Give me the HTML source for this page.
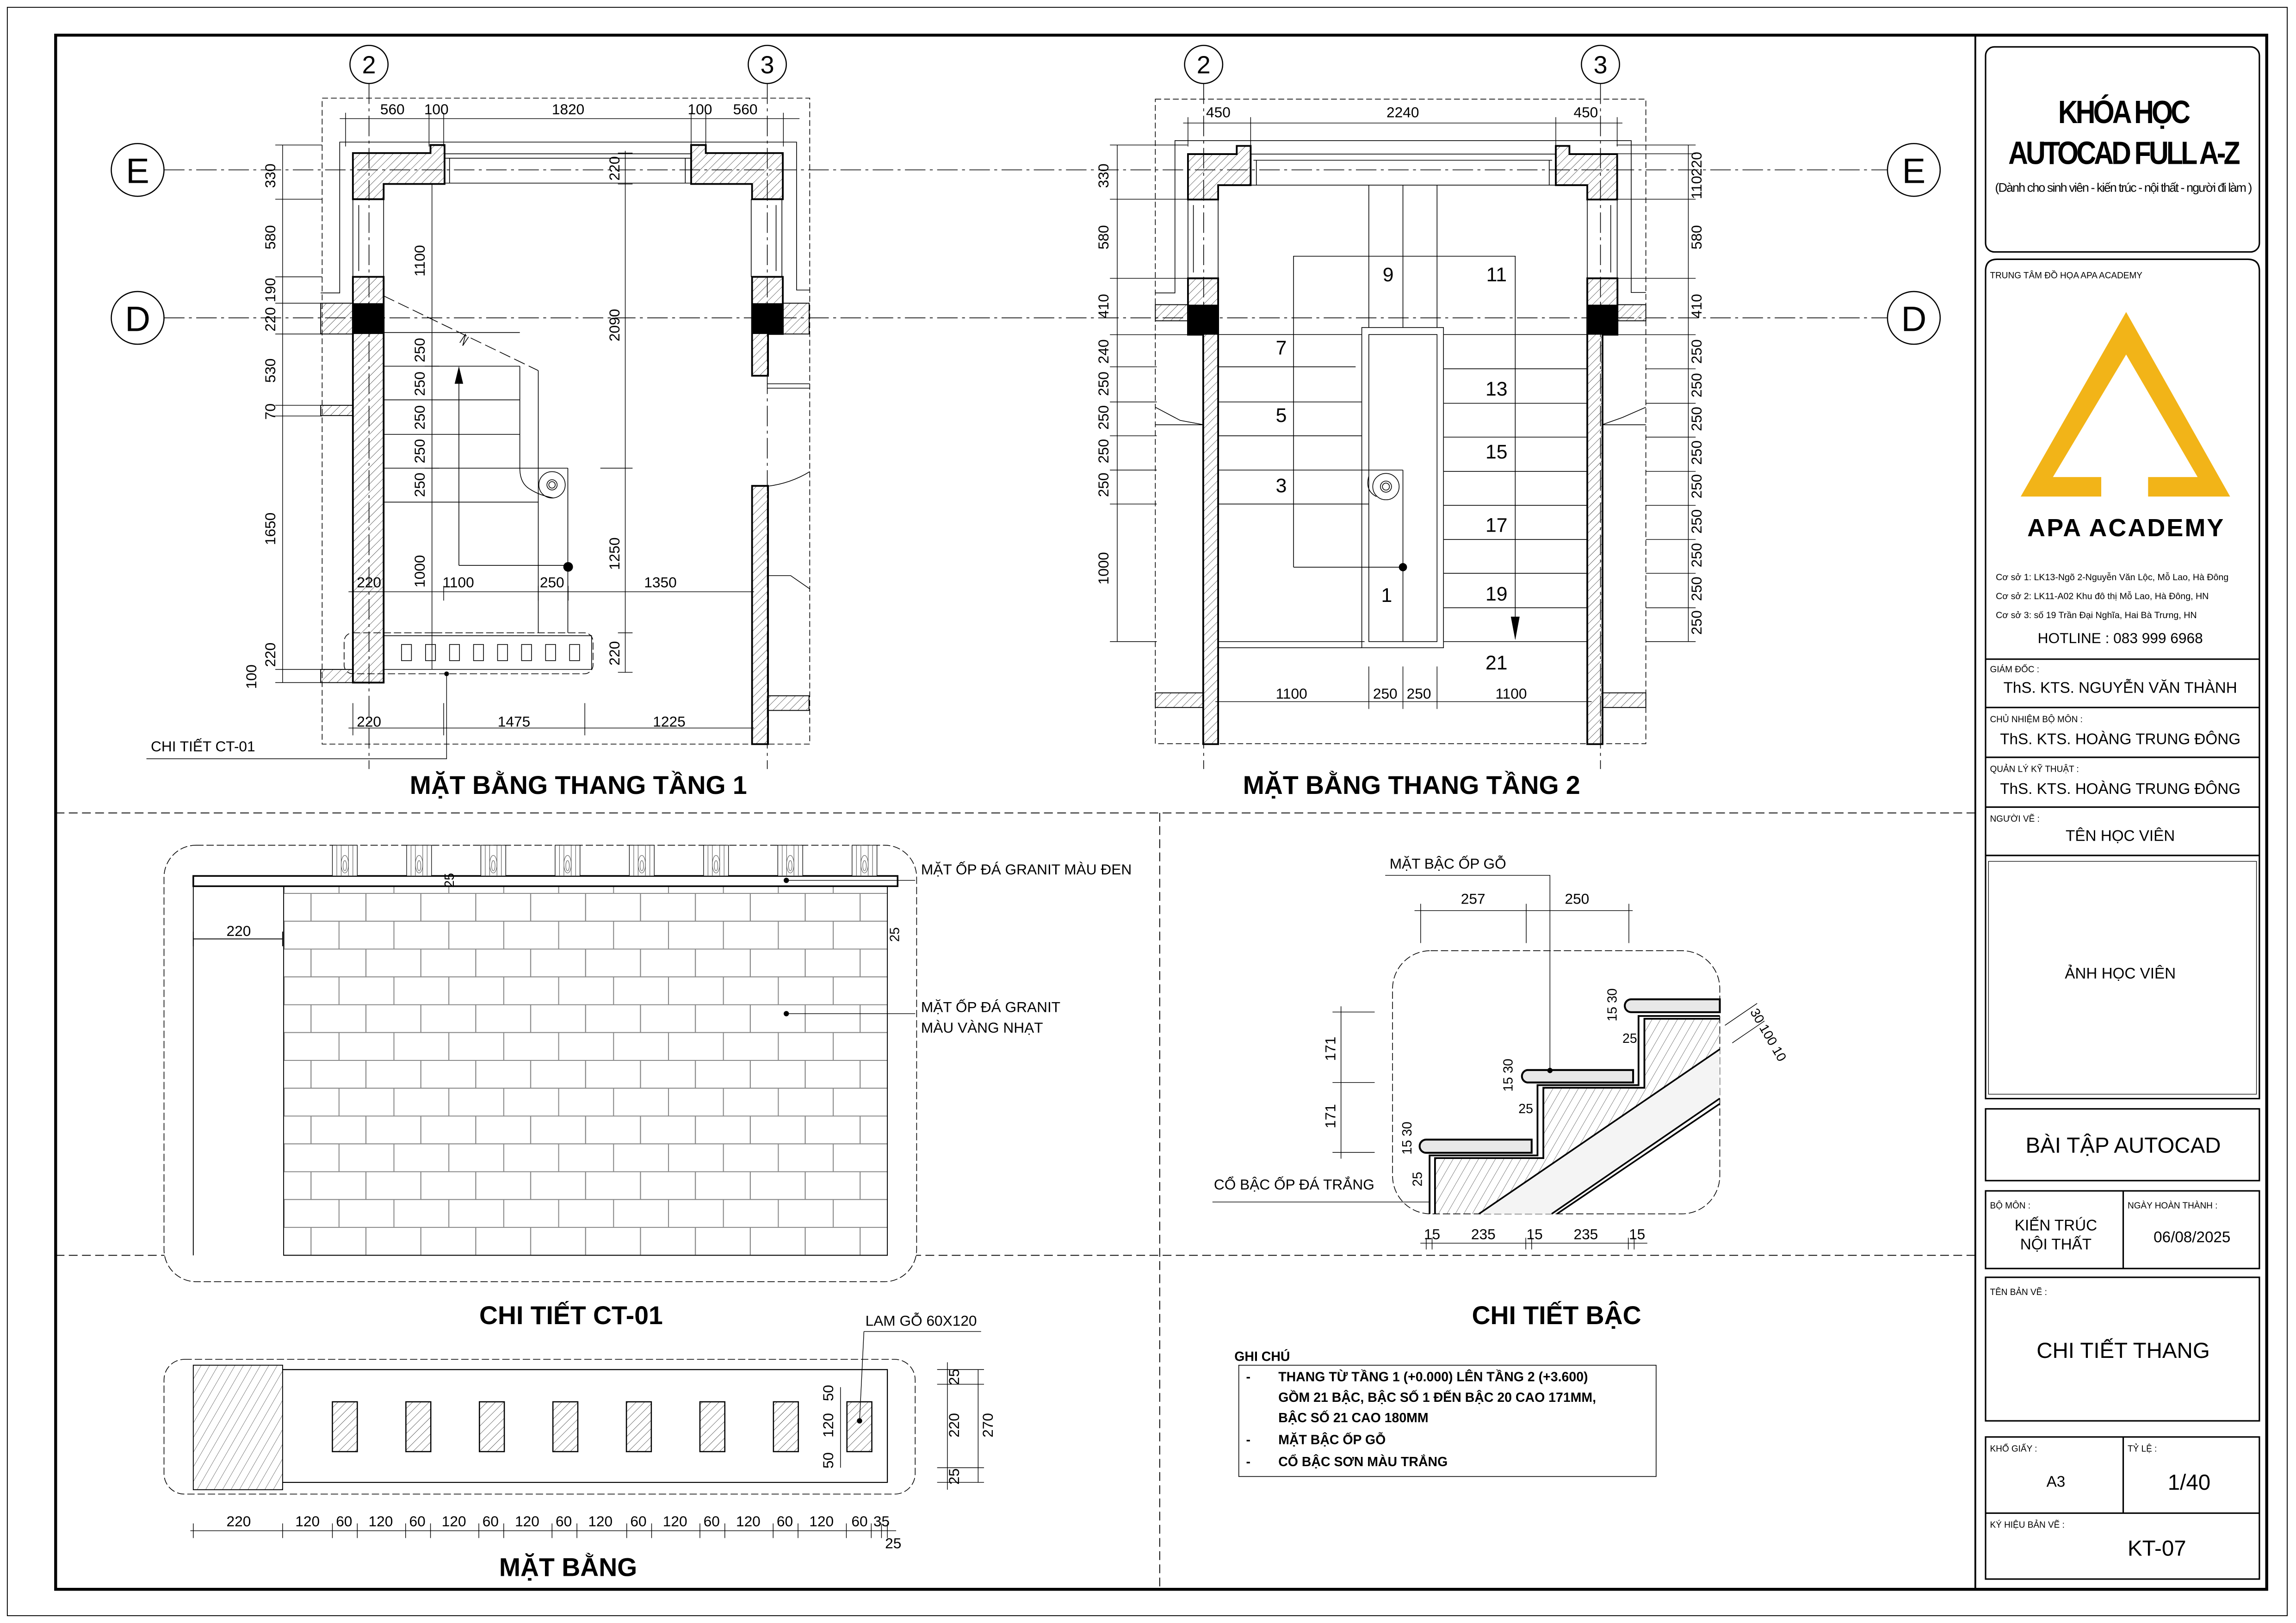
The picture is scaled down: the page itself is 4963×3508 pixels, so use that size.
<!DOCTYPE html>
<html><head><meta charset="utf-8"><style>
html,body{margin:0;padding:0;background:#fff}
svg{display:block}
text{font-family:"Liberation Sans",sans-serif;fill:#000}
</style></head><body>
<svg width="4963" height="3508" viewBox="0 0 1568 1108" preserveAspectRatio="none" xmlns="http://www.w3.org/2000/svg">
<defs>
<pattern id="h" patternUnits="userSpaceOnUse" width="4" height="4" patternTransform="rotate(45)"><line x1="0" y1="0" x2="0" y2="4" stroke="#000" stroke-width="0.35"/></pattern>
<pattern id="h2" patternUnits="userSpaceOnUse" width="5" height="5" patternTransform="rotate(30)"><line x1="0" y1="0" x2="0" y2="5" stroke="#000" stroke-width="0.3"/></pattern>
<pattern id="br" patternUnits="userSpaceOnUse" width="37.5" height="38" patternTransform="translate(193.7,609.6)"><path d="M0 0.3H37.5M0 19.3H37.5M18.7 0V19M0.3 19V38" stroke="#888" stroke-width="0.7" fill="none"/></pattern>
</defs>
<rect width="1568" height="1108" fill="#fff"/>
<rect x="5" y="5" width="1557" height="1098" fill="none" stroke="#000" stroke-width="0.6"/>
<rect x="38" y="24" width="1510" height="1061" fill="none" stroke="#000" stroke-width="2"/>
<line x1="1349" y1="24" x2="1349" y2="1085" stroke="#000" stroke-width="1.2"/>
<g stroke="#000" stroke-width="0.6" stroke-dasharray="6 3" fill="none">
<line x1="38" y1="555" x2="1349" y2="555"/>
<line x1="792" y1="555" x2="792" y2="1085"/>
<line x1="38" y1="857" x2="1349" y2="857"/>
</g>

<!-- grid -->
<g stroke="#000" stroke-width="0.5" stroke-dasharray="14 3 2 3" fill="none">
<line x1="112" y1="116" x2="1289" y2="116"/>
<line x1="112" y1="217" x2="1289" y2="217"/>
<line x1="252" y1="57" x2="252" y2="525"/>
<line x1="524" y1="57" x2="524" y2="525"/>
<line x1="822" y1="57" x2="822" y2="525"/>
<line x1="1093" y1="57" x2="1093" y2="525"/>
</g>
<g fill="#fff" stroke="#000" stroke-width="0.8">
<circle cx="252" cy="44" r="13"/><circle cx="524" cy="44" r="13"/><circle cx="822" cy="44" r="13"/><circle cx="1093" cy="44" r="13"/>
<circle cx="94" cy="116" r="18"/><circle cx="1307" cy="116" r="18"/><circle cx="94" cy="217" r="18"/><circle cx="1307" cy="217" r="18"/>
</g>
<g font-size="17" text-anchor="middle">
<text x="252" y="50">2</text><text x="524" y="50">3</text><text x="822" y="50">2</text><text x="1093" y="50">3</text>
</g>
<g font-size="24" text-anchor="middle">
<text x="94" y="125">E</text><text x="1307" y="125">E</text><text x="94" y="226">D</text><text x="1307" y="226">D</text>
</g>

<!-- ============ PLAN 1 ============ -->
<rect x="220" y="67" width="333" height="441" fill="none" stroke="#000" stroke-width="0.5" stroke-dasharray="4 2"/>
<g stroke="#000" stroke-width="0.5" fill="none">
<path d="M219 200H232V97H544V198H553"/>
<path d="M303 105H472M303 108H472M307 108V125M468 108V125M303 125H472"/>
<path d="M241 136V189M262 136V189M245 140V185"/>
<path d="M534 136V189M513 136V189M530 140V185"/>
<path d="M524 262H553M524 265H553"/>
<path d="M524 332Q540 330 553 322"/>
<path d="M524 393H540L553 402"/>
</g>
<g stroke="#000" stroke-width="1.2" fill="url(#h)">
<path d="M241 104.5H294V99H303.6V125.6H262V136H241Z"/>
<path d="M472 99H482V104.5H534.6V136H513.6V125.6H472Z"/>
<path d="M241 189H262V466H241Z"/>
<path d="M513.6 189H534.6V228H524.5V256.5H513.6Z"/>
<path d="M513.6 331.7H524.5V508H513.6Z"/>
</g>
<g stroke="#000" stroke-width="0.6" fill="url(#h)">
<rect x="219" y="207" width="22" height="21"/>
<rect x="219" y="276.7" width="22" height="7"/>
<rect x="219" y="457" width="22" height="9"/>
<rect x="534.6" y="207" width="18" height="21"/>
<rect x="524.5" y="475" width="28" height="10"/>
</g>
<rect x="241" y="207" width="21" height="21" fill="#000"/>
<rect x="513.6" y="207" width="21" height="21" fill="#000"/>
<g stroke="#000" stroke-width="0.5" fill="none">
<path d="M262 227H355M262 250H355M262 273H355M262 296.5H355M262 319.6H367.6M262 342.8H367.6"/>
<path d="M355 250V319.6Q355 330 362 334Q368 338 378 340M367.6 253V432M387.8 319.6V432M367.6 319.6H387.8"/>
<circle cx="377" cy="331" r="9"/><circle cx="377" cy="331" r="3.5"/><circle cx="377" cy="331" r="2.2"/>
<path d="M313.4 386V253M313.4 386H388"/>
<path d="M262 202L367.6 253" stroke-dasharray="8 3"/>
<path d="M314 234L318 228L316 236L320 230"/>
<rect x="235" y="432" width="170" height="28" rx="6" stroke-dasharray="5 2"/>
<path d="M262 434H404V457H262"/>
</g>
<polygon points="313.4,250 310.5,262 316.3,262" fill="#000"/>
<circle cx="388" cy="387" r="3.3" fill="#000"/>
<g fill="#fff" stroke="#000" stroke-width="0.5">
<rect x="274.2" y="440" width="6.8" height="11"/><rect x="290.6" y="440" width="6.8" height="11"/><rect x="307" y="440" width="6.8" height="11"/><rect x="323.4" y="440" width="6.8" height="11"/><rect x="339.8" y="440" width="6.8" height="11"/><rect x="356.2" y="440" width="6.8" height="11"/><rect x="372.6" y="440" width="6.8" height="11"/><rect x="389" y="440" width="6.8" height="11"/>
</g>
<!-- dims plan 1 -->
<g stroke="#000" stroke-width="0.45" fill="none">
<path d="M232 81H546M236 77V100M293 77V100M303 77V100M472 77V100M482 77V100M535 77V100"/>
<path d="M193 99V466M188 99H220M188 136H220M188 189H220M188 207H220M188 228H220M188 276.7H220M188 284H220M188 457H220M188 466H220"/>
<path d="M295 125V457M290 227H300M290 250H300M290 273H300M290 296.5H300M290 319.6H300M290 342.8H300M290 432H300"/>
<path d="M427 103V459M422 104.5H432M422 125.6H432M422 319.6H432M410 319.6H432M422 432H432M422 459H432"/>
<path d="M238 404H515M241 400V410M303 400V410M367.6 400V410M388 400V410M513.6 400V410"/>
<path d="M238 497H515M241 480V502M303 480V502M399.4 480V502M513.6 480V502"/>
<path d="M100 518H305V460"/>
</g>
<circle cx="305" cy="460" r="1.6" fill="#000"/>
<g font-size="10" text-anchor="middle">
<text x="268" y="78">560</text><text x="298" y="78">100</text><text x="388" y="78">1820</text><text x="478" y="78">100</text><text x="509" y="78">560</text>
<text x="252" y="401">220</text><text x="313" y="401">1100</text><text x="377" y="401">250</text><text x="451" y="401">1350</text>
<text x="252" y="496">220</text><text x="351" y="496">1475</text><text x="457" y="496">1225</text>
</g>
<g font-size="10" text-anchor="middle">
<text transform="translate(188,120) rotate(-90)">330</text>
<text transform="translate(188,162) rotate(-90)">580</text>
<text transform="translate(188,198) rotate(-90)">190</text>
<text transform="translate(188,218) rotate(-90)">220</text>
<text transform="translate(188,253) rotate(-90)">530</text>
<text transform="translate(188,281) rotate(-90)">70</text>
<text transform="translate(188,361) rotate(-90)">1650</text>
<text transform="translate(188,447) rotate(-90)">220</text>
<text transform="translate(175,462) rotate(-90)">100</text>
<text transform="translate(290,178) rotate(-90)">1100</text>
<text transform="translate(290,239) rotate(-90)">250</text>
<text transform="translate(290,262) rotate(-90)">250</text>
<text transform="translate(290,285) rotate(-90)">250</text>
<text transform="translate(290,308) rotate(-90)">250</text>
<text transform="translate(290,331) rotate(-90)">250</text>
<text transform="translate(290,390) rotate(-90)">1000</text>
<text transform="translate(423,115) rotate(-90)">220</text>
<text transform="translate(423,222) rotate(-90)">2090</text>
<text transform="translate(423,378) rotate(-90)">1250</text>
<text transform="translate(423,446) rotate(-90)">220</text>
</g>
<text x="103" y="513" font-size="10">CHI TIẾT CT-01</text>
<text x="395" y="542" font-size="17.5" font-weight="bold" text-anchor="middle">MẶT BẰNG THANG TẦNG 1</text>

<!-- ============ PLAN 2 ============ -->
<rect x="789" y="67.7" width="335" height="440" fill="none" stroke="#000" stroke-width="0.5" stroke-dasharray="4 2"/>
<g stroke="#000" stroke-width="0.5" fill="none">
<path d="M789 200H802.4V96H1114V199.7H1124"/>
<path d="M854 105.2H1062M856 109.4H1060M858 109.4V126.4M1058 109.4V126.4M854 126.4H1062"/>
<path d="M811.3 136V190M831.9 136V190M815 140V186M1084 136V190M1104.4 136V190M1100 140V186"/>
<path d="M934.8 126.4V223.6M958.1 126.4V223.6M981.4 126.4V223.6"/>
<rect x="930" y="223.6" width="55.8" height="218.6"/>
<rect x="934.8" y="228.4" width="46.6" height="209.6"/>
<path d="M931.9 438H930M832 438H930M832 442.2H930"/>
<path d="M883.4 387.2V174.9H1034.8V436"/>
<path d="M832 228.4H930M832 250.4H925.8M832 274.4H930M832 297.5H930M832 320.9H958.1M832 344.1H934.8"/>
<path d="M985.8 228.4H1084M985.8 251.8H1084M985.8 275.3H1084M985.8 298.4H1084M985.8 321.8H1084M985.8 345H1084M985.8 368.3H1084M985.8 391.4H1084M985.8 414.9H1084M985.8 438H1084"/>
<path d="M958.1 320.9V387.2H883.4M958.1 387.2V438"/>
<path d="M934.8 325Q932 335 940 339" />
<circle cx="946.5" cy="332.2" r="9"/><circle cx="946.5" cy="332.2" r="3.8"/><circle cx="946.5" cy="332.2" r="2.4"/>
<path d="M789 278L806 287L822 290M789 290H822M1094 290H1124M1094 290L1108 285L1124 278"/>
</g>
<polygon points="1034.8,437 1031.8,421 1037.8,421" fill="#000"/>
<circle cx="958.1" cy="387.2" r="2.8" fill="#000"/>
<g stroke="#000" stroke-width="1.2" fill="url(#h)">
<path d="M811.3 105.2H844.6V99.6H854.1V126.4H831.9V136.2H811.3Z"/>
<path d="M1062.5 99.6H1071.8V105.2H1104.4V136.2H1084V126.4H1062.5Z"/>
<path d="M811.3 190H831.9V508H821.7V228.5H811.3Z"/>
<path d="M1084 190H1104.6V228.5H1094.4V508H1084Z"/>
</g>
<g stroke="#000" stroke-width="0.6" fill="url(#h)">
<rect x="789" y="208" width="22.3" height="11"/>
<rect x="1104.6" y="208" width="19.4" height="11"/>
<rect x="789" y="473" width="32.7" height="10"/>
<rect x="1094.4" y="473" width="29.6" height="10"/>
</g>
<rect x="811.3" y="208" width="20.6" height="20.5" fill="#000"/>
<rect x="1084" y="208" width="20.6" height="20.5" fill="#000"/>
<g font-size="13.5" text-anchor="middle">
<text x="948" y="192">9</text><text x="1022" y="192">11</text><text x="875" y="242">7</text><text x="875" y="288">5</text><text x="875" y="336">3</text><text x="947" y="411">1</text>
<text x="1022" y="270">13</text><text x="1022" y="313">15</text><text x="1022" y="363">17</text><text x="1022" y="410">19</text><text x="1022" y="457">21</text>
</g>
<g stroke="#000" stroke-width="0.45" fill="none">
<path d="M808 84H1108M811.3 80V100M854.1 80V100M1062.5 80V100M1104.4 80V100"/>
<path d="M830 479H1087M832 470V484M934.8 455V484M958.1 455V484M981.4 455V484M1084 470V484"/>
<path d="M763 99V438M758 99H811M758 136H811M758 190H811M758 228.5H811M758 250.4H790M758 274.4H790M758 297.5H790M758 320.9H790M758 344.1H790M758 438H790"/>
<path d="M1153 99V438M1104 99H1158M1104 105H1158M1104 136H1158M1104 190H1158M1104 228.5H1158M1124 251.8H1158M1124 275.3H1158M1124 298.4H1158M1124 321.8H1158M1124 345H1158M1124 368.3H1158M1124 391.4H1158M1124 414.9H1158M1124 438H1158"/>
</g>
<g font-size="10" text-anchor="middle">
<text x="832" y="80">450</text><text x="958" y="80">2240</text><text x="1083" y="80">450</text>
<text x="882" y="477">1100</text><text x="946" y="477">250</text><text x="969" y="477">250</text><text x="1032" y="477">1100</text>
<text transform="translate(757,120) rotate(-90)">330</text>
<text transform="translate(757,162) rotate(-90)">580</text>
<text transform="translate(757,209) rotate(-90)">410</text>
<text transform="translate(757,240) rotate(-90)">240</text>
<text transform="translate(757,262) rotate(-90)">250</text>
<text transform="translate(757,285) rotate(-90)">250</text>
<text transform="translate(757,308) rotate(-90)">250</text>
<text transform="translate(757,331) rotate(-90)">250</text>
<text transform="translate(757,388) rotate(-90)">1000</text>
<text transform="translate(1162,112) rotate(-90)">220</text>
<text transform="translate(1162,128) rotate(-90)">110</text>
<text transform="translate(1162,162) rotate(-90)">580</text>
<text transform="translate(1162,209) rotate(-90)">410</text>
<text transform="translate(1162,240) rotate(-90)">250</text>
<text transform="translate(1162,263) rotate(-90)">250</text>
<text transform="translate(1162,286) rotate(-90)">250</text>
<text transform="translate(1162,309) rotate(-90)">250</text>
<text transform="translate(1162,332) rotate(-90)">250</text>
<text transform="translate(1162,356) rotate(-90)">250</text>
<text transform="translate(1162,379) rotate(-90)">250</text>
<text transform="translate(1162,402) rotate(-90)">250</text>
<text transform="translate(1162,425) rotate(-90)">250</text>
</g>
<text x="964" y="542" font-size="17.5" font-weight="bold" text-anchor="middle">MẶT BẰNG THANG TẦNG 2</text>

<!-- ============ CT-01 ============ -->
<rect x="112" y="577" width="514" height="298" rx="22" fill="#fff" stroke="#000" stroke-width="0.5" stroke-dasharray="5 2"/>
<rect x="193.7" y="605" width="412.3" height="252" fill="url(#br)"/>
<g stroke="#000" stroke-width="0.6" fill="none">
<path d="M193.7 605V857H606V605"/>
<path d="M132 598V857"/>
<path d="M132 641H193M132 636V646M193 636V646"/>
</g>
<rect x="132" y="598" width="481" height="7" fill="#fff" stroke="#000" stroke-width="1.1"/>
<g stroke="#000" stroke-width="0.4" fill="#fff">
<rect x="227" y="577" width="17" height="21"/><rect x="277.7" y="577" width="17" height="21"/><rect x="328.4" y="577" width="17" height="21"/><rect x="379.1" y="577" width="17" height="21"/><rect x="429.8" y="577" width="17" height="21"/><rect x="480.5" y="577" width="17" height="21"/><rect x="531.2" y="577" width="17" height="21"/><rect x="581.9" y="577" width="17" height="21"/>
</g>
<g stroke="#555" stroke-width="0.35" fill="none">
<g id="bl"><path d="M230 577V598M233 577V598M241 577V598M238 577V598"/><ellipse cx="235.5" cy="590" rx="2.5" ry="6"/><ellipse cx="235.5" cy="591" rx="1.2" ry="3.5"/></g>
<use href="#bl" x="50.7"/><use href="#bl" x="101.4"/><use href="#bl" x="152.1"/><use href="#bl" x="202.8"/><use href="#bl" x="253.5"/><use href="#bl" x="304.2"/><use href="#bl" x="354.9"/>
</g>
<g stroke="#000" stroke-width="0.45" fill="none"><path d="M537 601H625M537 692H625"/></g>
<circle cx="537" cy="601" r="1.8" fill="#000"/><circle cx="537" cy="692" r="1.8" fill="#000"/>
<text x="163" y="639" font-size="10" text-anchor="middle">220</text>
<text transform="translate(310,601) rotate(-90)" font-size="9" text-anchor="middle">25</text>
<text transform="translate(614,638) rotate(-90)" font-size="9" text-anchor="middle">25</text>
<text x="629" y="597" font-size="10">MẶT ỐP ĐÁ GRANIT MÀU ĐEN</text>
<text x="629" y="691" font-size="10">MẶT ỐP ĐÁ GRANIT</text>
<text x="629" y="705" font-size="10">MÀU VÀNG NHẠT</text>
<text x="390" y="904" font-size="17.5" font-weight="bold" text-anchor="middle">CHI TIẾT CT-01</text>

<!-- ============ MAT BANG ============ -->
<rect x="112" y="928" width="513" height="92" rx="14" fill="none" stroke="#000" stroke-width="0.5" stroke-dasharray="5 2"/>
<rect x="132" y="932" width="61" height="85" fill="url(#h2)" stroke="#000" stroke-width="0.6"/>
<g stroke="#000" stroke-width="0.7" fill="none"><path d="M193 935H606V1012H193"/></g>
<g stroke="#000" stroke-width="0.8" fill="url(#h)">
<rect x="227" y="957" width="17" height="34"/><rect x="277.2" y="957" width="17" height="34"/><rect x="327.4" y="957" width="17" height="34"/><rect x="377.6" y="957" width="17" height="34"/><rect x="427.8" y="957" width="17" height="34"/><rect x="478" y="957" width="17" height="34"/><rect x="528.2" y="957" width="17" height="34"/><rect x="578.4" y="957" width="17" height="34"/>
</g>
<g stroke="#000" stroke-width="0.45" fill="none">
<path d="M590 909H670M590 909L587 970"/>
<path d="M640 935H672M640 945H672M640 1002H672M640 1012H672M647 930V1017M668 935V1012"/>
<path d="M574 947V1002"/>
<path d="M130 1045H612M132 1040V1050M193 1040V1050M227 1040V1050M244 1040V1050M277 1040V1050M294 1040V1050M327 1040V1050M344 1040V1050M377 1040V1050M394 1040V1050M428 1040V1050M445 1040V1050M478 1040V1050M495 1040V1050M528 1040V1050M545 1040V1050M578 1040V1050M595 1040V1050M602 1040V1050M606 1040V1050"/>
</g>
<circle cx="587" cy="970" r="1.8" fill="#000"/>
<text x="591" y="905" font-size="10">LAM GỖ 60X120</text>
<g font-size="10" text-anchor="middle">
<text x="163" y="1042">220</text>
<text x="210" y="1042">120</text><text x="235" y="1042">60</text><text x="260" y="1042">120</text><text x="285" y="1042">60</text><text x="310" y="1042">120</text><text x="335" y="1042">60</text><text x="360" y="1042">120</text><text x="385" y="1042">60</text><text x="410" y="1042">120</text><text x="436" y="1042">60</text><text x="461" y="1042">120</text><text x="486" y="1042">60</text><text x="511" y="1042">120</text><text x="536" y="1042">60</text><text x="561" y="1042">120</text><text x="587" y="1042">60</text><text x="602" y="1042">35</text><text x="610" y="1057">25</text>
<text transform="translate(655,940) rotate(-90)">25</text>
<text transform="translate(655,973) rotate(-90)">220</text>
<text transform="translate(655,1008) rotate(-90)">25</text>
<text transform="translate(678,973) rotate(-90)">270</text>
<text transform="translate(569,951) rotate(-90)">50</text>
<text transform="translate(569,973) rotate(-90)">120</text>
<text transform="translate(569,997) rotate(-90)">50</text>
</g>
<text x="388" y="1076" font-size="17.5" font-weight="bold" text-anchor="middle">MẶT BẰNG</text>

<!-- ============ CHI TIET BAC ============ -->
<rect x="951" y="649" width="223.5" height="179.7" rx="26" fill="none" stroke="#000" stroke-width="0.5" stroke-dasharray="5 2"/>
<path d="M980 828.7V790.6H1054V742.6H1123V695.5H1174.5V716.3L1010 828.7Z" fill="url(#h2)"/>
<path d="M1010 828.7L1174.5 716.3V749.9L1059.7 828.7Z" fill="#f4f4f4"/>
<g stroke="#000" fill="none">
<path d="M976.3 828.7V788.8H1050V740.8H1119V693.6H1174.5" stroke-width="1.2"/>
<path d="M980 828.7V790.6H1054V742.6H1123V695.5H1174.5" stroke-width="1.2"/>
<path d="M1010 828.7L1174.5 716.3M1059.7 828.7L1174.5 749.9M1063.3 828.7L1174.5 753.5" stroke-width="1.1"/>
<path d="M946 597.6H1058.5V730.8" stroke-width="0.45"/>
<path d="M966 621.7H1115M970.2 617V643.8M1042.3 617V643.8M1112.4 617V643.8" stroke-width="0.45"/>
<path d="M915.8 687V791M910 690.9H938.8M910 739H938.8M910 786.7H938.8" stroke-width="0.45"/>
<path d="M828 820.6H976" stroke-width="0.45"/>
<path d="M970 848.7H1125M974 845V853M978 845V853M1042 845V853M1046 845V853M1112 845V853M1116 845V853" stroke-width="0.45"/>
<path d="M1178 700L1200 685M1183 712L1205 697" stroke-width="0.45"/>
</g>
<g stroke="#000" stroke-width="1.3" fill="#e8e8e8">
<path d="M974 778H1046V787H974A4.5 4.5 0 0 1 974 778Z"/>
<path d="M1043 730.5H1115.3V739H1043A4.3 4.3 0 0 1 1043 730.5Z"/>
<path d="M1114 682.2H1174.5V691H1114A4.4 4.4 0 0 1 1114 682.2Z"/>
</g>
<circle cx="1058.5" cy="730.8" r="1.8" fill="#000"/>
<g font-size="10" text-anchor="middle">
<text x="1006" y="617">257</text><text x="1077" y="617">250</text>
<text transform="translate(912,716) rotate(-90)">171</text>
<text transform="translate(912,762) rotate(-90)">171</text>
<text x="978" y="846">15</text><text x="1013" y="846">235</text><text x="1048" y="846">15</text><text x="1083" y="846">235</text><text x="1118" y="846">15</text>
</g>
<g font-size="9" text-anchor="middle">
<text transform="translate(964,777) rotate(-90)">15 30</text>
<text transform="translate(971,805) rotate(-90)">25</text>
<text transform="translate(1033,734) rotate(-90)">15 30</text>
<text x="1042" y="760">25</text>
<text transform="translate(1104,686) rotate(-90)">15 30</text>
<text x="1113" y="712">25</text>
<text transform="translate(1205,708) rotate(60)">30 100 10</text>
</g>
<text x="949" y="593" font-size="10">MẶT BẬC ỐP GỖ</text>
<text x="829" y="812" font-size="10">CỔ BẬC ỐP ĐÁ TRẮNG</text>
<text x="1063" y="904" font-size="17.5" font-weight="bold" text-anchor="middle">CHI TIẾT BẬC</text>

<!-- ghi chu -->
<text x="843" y="929" font-size="9" font-weight="bold">GHI CHÚ</text>
<rect x="846" y="932" width="285" height="76" fill="none" stroke="#000" stroke-width="0.5"/>
<g font-size="9" font-weight="bold">
<text x="851" y="943">-</text><text x="873" y="943">THANG TỪ TẦNG 1 (+0.000) LÊN TẦNG 2 (+3.600)</text>
<text x="873" y="957">GỒM 21 BẬC, BẬC SỐ  1 ĐẾN BẬC 20 CAO 171MM,</text>
<text x="873" y="971">BẬC SỐ 21 CAO 180MM</text>
<text x="851" y="986">-</text><text x="873" y="986">MẶT BẬC ỐP GỖ</text>
<text x="851" y="1001">-</text><text x="873" y="1001">CỔ BẬC SƠN MÀU TRẮNG</text>
</g>

<!-- ============ TITLE BLOCK ============ -->
<g stroke="#000" stroke-width="1" fill="none">
<rect x="1356" y="32" width="187" height="140" rx="6"/>
<path d="M1356 750V185Q1356 177 1364 177H1535Q1543 177 1543 185V750Z"/>
<path d="M1356 450H1543M1356 483H1543M1356 517H1543M1356 551H1543M1356 584H1543"/>
<rect x="1356" y="757" width="187" height="49"/>
<rect x="1356" y="813" width="187" height="53"/>
<path d="M1450 813V866"/>
<rect x="1356" y="872" width="187" height="98"/>
<rect x="1356" y="981" width="187" height="97"/>
<path d="M1356 1033H1543M1450 981V1033"/>
</g>
<rect x="1358" y="588" width="183" height="159" fill="none" stroke="#000" stroke-width="0.4"/>
<g transform="translate(1450,0) scale(0.85,1)">
<text x="0" y="84" font-size="22" font-weight="bold" text-anchor="middle" letter-spacing="-1.8">KHÓA HỌC</text>
<text x="0" y="112" font-size="22" font-weight="bold" text-anchor="middle" letter-spacing="-1.8">AUTOCAD FULL A-Z</text>
</g>
<text x="1450" y="131" font-size="8.5" text-anchor="middle" letter-spacing="-0.6">(Dành cho sinh viên  - kiến trúc - nội thất - người đi làm )</text>
<text x="1359" y="190" font-size="6">TRUNG TÂM ĐỒ HỌA APA ACADEMY</text>
<polygon points="1380,339 1452,213 1523,339 1467,339 1467,325.7 1500.8,325.7 1452,242 1402,325.7 1435,325.7 1435,339" fill="#f2b418"/>
<text x="1452" y="366" font-size="17" font-weight="bold" text-anchor="middle" letter-spacing="1">APA ACADEMY</text>
<g font-size="6.2">
<text x="1363" y="396">Cơ sở 1: LK13-Ngõ 2-Nguyễn Văn Lộc, Mỗ Lao, Hà Đông</text>
<text x="1363" y="409">Cơ sở 2: LK11-A02 Khu đô thị Mỗ Lao, Hà Đông, HN</text>
<text x="1363" y="422">Cơ sở 3: số 19 Trần Đại Nghĩa, Hai Bà Trưng, HN</text>
</g>
<text x="1448" y="439" font-size="10" text-anchor="middle">HOTLINE : 083 999 6968</text>
<g font-size="6">
<text x="1359" y="459">GIÁM ĐỐC :</text>
<text x="1359" y="493">CHỦ NHIỆM BỘ MÔN :</text>
<text x="1359" y="527">QUẢN LÝ KỸ THUẬT :</text>
<text x="1359" y="561">NGƯỜI VẼ :</text>
<text x="1359" y="825">BỘ MÔN :</text>
<text x="1453" y="825">NGÀY HOÀN THÀNH :</text>
<text x="1359" y="884">TÊN BẢN VẼ :</text>
<text x="1359" y="991">KHỔ GIẤY :</text>
<text x="1453" y="991">TỶ LỆ :</text>
<text x="1359" y="1043">KÝ HIỆU BẢN VẼ :</text>
</g>
<g font-size="10.5" text-anchor="middle">
<text x="1448" y="473">ThS. KTS. NGUYỄN VĂN THÀNH</text>
<text x="1448" y="508">ThS. KTS. HOÀNG TRUNG ĐÔNG</text>
<text x="1448" y="542">ThS. KTS. HOÀNG TRUNG ĐÔNG</text>
<text x="1448" y="574">TÊN HỌC VIÊN</text>
<text x="1448" y="668">ẢNH HỌC VIÊN</text>
<text x="1404" y="840">KIẾN TRÚC</text>
<text x="1404" y="853">NỘI THẤT</text>
<text x="1497" y="848">06/08/2025</text>
<text x="1404" y="1015">A3</text>
</g>
<text x="1450" y="787" font-size="15" text-anchor="middle">BÀI TẬP AUTOCAD</text>
<text x="1450" y="927" font-size="15" text-anchor="middle">CHI TIẾT THANG</text>
<text x="1495" y="1017" font-size="15" text-anchor="middle">1/40</text>
<text x="1473" y="1062" font-size="15" text-anchor="middle">KT-07</text>
</svg>
</body></html>
